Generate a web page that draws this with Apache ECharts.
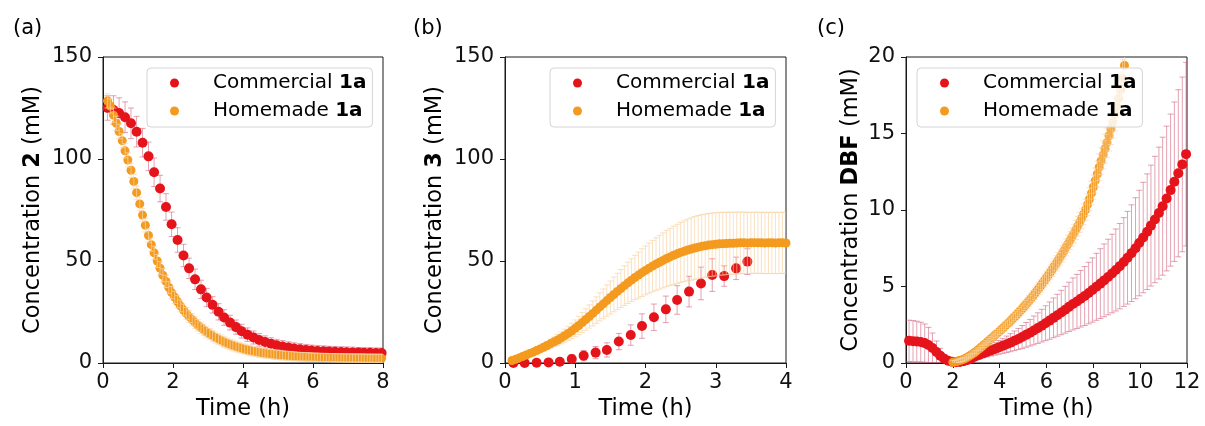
<!DOCTYPE html>
<html>
<head>
<meta charset="utf-8">
<script src="https://cdn.jsdelivr.net/npm/echarts@6/dist/echarts.min.js"></script>
<style>
  html, body { margin: 0; padding: 0; background: #fff; }
  #chart { width: 1205px; height: 426px; }
</style>
</head>
<body>
<div id="chart"></div>
<script>
// ---------- (a) concentration of 2 ----------
const aRedTime = [0.13,0.30,0.46,0.63,0.80,0.96,1.13,1.30,1.46,1.63,
  1.80,1.96,2.13,2.30,2.46,2.63,2.80,2.96,3.13,3.30,
  3.46,3.63,3.80,3.96,4.13,4.30,4.46,4.63,4.80,4.96,
  5.13,5.30,5.46,5.63,5.80,5.96,6.13,6.30,6.46,6.63,
  6.80,6.96,7.13,7.30,7.46,7.63,7.80,7.96];
const aRedConc = [125.0,124.0,122.5,120.5,117.5,113.4,108.0,101.3,93.5,85.5,
  76.5,68.0,60.3,52.7,46.4,41.0,36.1,32.1,28.5,25.1,
  22.3,19.8,17.6,15.6,13.9,12.5,11.3,10.3,9.4,8.7,
  8.1,7.6,7.1,6.7,6.4,6.1,5.9,5.7,5.6,5.5,
  5.4,5.3,5.2,5.1,5.0,5.0,4.9,4.9];
const aRedErr = [6.0,7.0,7.5,7.5,7.5,7.5,7.0,7.0,7.0,6.5,
  6.5,6.0,6.0,5.5,5.0,5.0,4.5,4.5,4.0,4.0,
  3.8,3.6,3.5,3.4,3.3,3.2,3.1,3.0,3.0,2.9,
  2.9,2.8,2.8,2.8,2.7,2.7,2.7,2.7,2.6,2.6,
  2.6,2.6,2.6,2.5,2.5,2.5,2.5,2.5];

const aOrangeTime = [0.13,0.21,0.30,0.38,0.46,0.55,0.63,0.71,0.80,0.88,
  0.96,1.05,1.13,1.21,1.30,1.38,1.46,1.55,1.63,1.71,
  1.80,1.88,1.96,2.05,2.13,2.21,2.30,2.38,2.46,2.55,
  2.63,2.71,2.80,2.88,2.96,3.05,3.13,3.21,3.30,3.38,
  3.46,3.55,3.63,3.71,3.80,3.88,3.96,4.05,4.13,4.21,
  4.30,4.38,4.46,4.55,4.63,4.71,4.80,4.88,4.96,5.05,
  5.13,5.21,5.30,5.38,5.46,5.55,5.63,5.71,5.80,5.88,
  5.96,6.05,6.13,6.21,6.30,6.38,6.46,6.55,6.63,6.71,
  6.80,6.88,6.96,7.05,7.13,7.21,7.30,7.38,7.46,7.55,
  7.63,7.71,7.80,7.88,7.96];
const aOrangeConc = [128.5,126.0,121.5,117.5,113.5,109.0,104.0,99.5,94.5,89.0,
  83.5,78.0,72.5,67.5,62.5,58.0,54.0,50.0,46.5,43.0,
  40.0,37.0,34.5,32.2,30.0,28.0,26.0,24.3,22.7,21.2,
  19.8,18.5,17.3,16.2,15.2,14.2,13.3,12.5,11.7,11.0,
  10.3,9.7,9.1,8.6,8.1,7.6,7.2,6.8,6.4,6.1,
  5.8,5.5,5.2,5.0,4.8,4.6,4.4,4.2,4.05,3.9,
  3.75,3.6,3.5,3.4,3.3,3.2,3.1,3.05,3.0,2.95,
  2.9,2.85,2.8,2.75,2.7,2.7,2.65,2.6,2.6,2.55,
  2.55,2.5,2.5,2.45,2.45,2.45,2.4,2.4,2.4,2.35,
  2.35,2.35,2.3,2.3,2.3];
const aOrangeErr = [3.5,3.5,3.5,3.5,3.5,3.5,3.5,3.5,3.5,3.5,
  3.3,3.3,3.3,3.3,3.3,3.2,3.2,3.2,3.2,3.2,
  3.0,3.0,3.0,3.0,3.0,2.9,2.9,2.9,2.9,2.9,
  2.8,2.8,2.8,2.8,2.8,2.7,2.7,2.7,2.7,2.7,
  2.6,2.6,2.6,2.6,2.6,2.5,2.5,2.5,2.5,2.5,
  2.4,2.4,2.4,2.4,2.4,2.3,2.3,2.3,2.3,2.3,
  2.2,2.2,2.2,2.2,2.2,2.1,2.1,2.1,2.1,2.1,
  2.0,2.0,2.0,2.0,2.0,2.0,2.0,2.0,2.0,2.0,
  2.0,2.0,2.0,2.0,2.0,2.0,2.0,2.0,2.0,2.0,
  2.0,2.0,2.0,2.0,2.0];

// ---------- (b) concentration of 3 ----------
const bRedTime = [0.12,0.28,0.45,0.62,0.78,0.95,1.12,1.29,1.45,1.62,
  1.79,1.95,2.12,2.29,2.45,2.62,2.79,2.95,3.12,3.29,3.45];
const bRedConc = [0.0,0.0,0.1,0.3,0.6,2.0,3.6,5.1,6.4,10.5,
  13.7,18.1,22.4,26.3,30.9,35.0,39.0,43.1,42.6,46.4,49.7];
const bRedErr = [0.2,0.3,0.5,0.8,1.2,2.0,2.5,3.0,3.5,4.0,
  5.0,6.0,6.5,6.5,7.0,7.5,8.0,8.0,5.0,5.5,6.3];

const bOrangeTime = [0.10,0.15,0.20,0.25,0.30,0.35,0.40,0.45,0.50,0.55,
  0.60,0.65,0.70,0.75,0.80,0.85,0.90,0.95,1.00,1.05,
  1.10,1.15,1.20,1.25,1.30,1.35,1.40,1.45,1.50,1.55,
  1.60,1.65,1.70,1.75,1.80,1.85,1.90,1.95,2.00,2.05,
  2.10,2.15,2.20,2.25,2.30,2.35,2.40,2.45,2.50,2.55,
  2.60,2.65,2.70,2.75,2.80,2.85,2.90,2.95,3.00,3.05,
  3.10,3.15,3.20,3.25,3.30,3.35,3.40,3.45,3.50,3.55,
  3.60,3.65,3.70,3.75,3.80,3.85,3.90,3.95,4.00];
const bOrangeConc = [1.2,1.8,2.5,3.2,3.9,4.6,5.3,6.1,6.9,7.7,
  8.6,9.5,10.4,11.3,12.3,13.4,14.5,15.7,17.0,18.4,
  19.8,21.3,22.8,24.3,25.9,27.5,29.0,30.6,32.1,33.6,
  35.1,36.5,37.9,39.3,40.6,41.9,43.1,44.3,45.4,46.5,
  47.5,48.5,49.4,50.3,51.2,52.0,52.8,53.5,54.2,54.8,
  55.4,55.9,56.4,56.8,57.2,57.5,57.8,58.0,58.2,58.4,
  58.5,58.6,58.7,58.7,58.8,58.9,58.9,58.8,58.9,59.0,
  58.9,58.9,58.8,58.9,58.9,58.8,58.9,58.9,58.8];
const bOrangeErr = [0.3,0.4,0.6,0.7,0.9,1.0,1.2,1.4,1.6,1.8,
  2.0,2.2,2.4,2.7,2.9,3.2,3.5,3.8,4.1,4.5,
  4.9,5.3,5.7,6.1,6.5,6.9,7.3,7.7,8.1,8.5,
  8.9,9.3,9.7,10.1,10.5,10.9,11.3,11.7,12.0,12.3,
  12.6,12.9,13.2,13.5,13.8,14.0,14.3,14.5,14.7,14.9,
  15.1,15.3,15.4,15.5,15.5,15.5,15.5,15.5,15.5,15.4,
  15.4,15.3,15.3,15.2,15.2,15.1,15.1,15.0,15.0,15.0,
  15.0,15.0,15.0,15.0,15.0,15.0,15.0,15.0,15.0];

// ---------- (c) concentration of DBF ----------
const cRedTime = [0.13,0.30,0.46,0.63,0.80,0.96,1.13,1.30,1.46,1.63,
  1.80,1.96,2.13,2.30,2.46,2.63,2.80,2.96,3.13,3.30,
  3.46,3.63,3.80,3.96,4.13,4.30,4.46,4.63,4.80,4.96,
  5.13,5.30,5.46,5.63,5.80,5.96,6.13,6.30,6.46,6.63,
  6.80,6.96,7.13,7.30,7.46,7.63,7.80,7.96,8.13,8.30,
  8.46,8.63,8.80,8.96,9.13,9.30,9.46,9.63,9.80,9.96,
  10.13,10.30,10.46,10.63,10.80,10.96,11.13,11.30,11.46,11.63,
  11.80,11.96];
const cRedConc = [1.45,1.42,1.40,1.37,1.30,1.18,0.98,0.72,0.48,0.28,
  0.15,0.08,0.05,0.07,0.12,0.20,0.30,0.42,0.53,0.63,
  0.72,0.82,0.92,1.02,1.12,1.22,1.33,1.45,1.57,1.70,
  1.84,1.98,2.13,2.28,2.44,2.60,2.77,2.95,3.12,3.30,
  3.48,3.67,3.86,4.02,4.20,4.38,4.57,4.77,4.98,5.19,
  5.40,5.62,5.85,6.08,6.33,6.60,6.88,7.18,7.50,7.84,
  8.20,8.58,8.98,9.38,9.80,10.25,10.75,11.30,11.85,12.40,
  12.98,13.65];
const cRedErr = [1.35,1.35,1.33,1.30,1.25,1.15,0.98,0.72,0.48,0.28,
  0.15,0.08,0.05,0.05,0.07,0.10,0.15,0.19,0.24,0.28,
  0.32,0.36,0.41,0.45,0.49,0.54,0.59,0.64,0.69,0.75,
  0.81,0.87,0.94,1.00,1.07,1.14,1.22,1.30,1.37,1.45,
  1.53,1.61,1.70,1.77,1.85,1.93,2.01,2.10,2.19,2.28,
  2.38,2.47,2.57,2.68,2.79,2.90,3.03,3.16,3.30,3.45,
  3.61,3.78,3.95,4.13,4.31,4.51,4.73,4.97,5.21,5.46,
  5.71,6.00];

const cOrangeTime = [2.00,2.08,2.17,2.25,2.33,2.42,2.50,2.58,2.67,2.75,2.83,2.92,
  3.00,3.08,3.17,3.25,3.33,3.42,3.50,3.58,3.67,3.75,3.83,3.92,
  4.00,4.08,4.17,4.25,4.33,4.42,4.50,4.58,4.67,4.75,4.83,4.92,
  5.00,5.08,5.17,5.25,5.33,5.42,5.50,5.58,5.67,5.75,5.83,5.92,
  6.00,6.08,6.17,6.25,6.33,6.42,6.50,6.58,6.67,6.75,6.83,6.92,
  7.00,7.08,7.17,7.25,7.33,7.42,7.50,7.58,7.67,7.75,7.83,7.92,
  8.00,8.08,8.17,8.25,8.33,8.42,8.50,8.58,8.67,8.75,8.83,8.92,
  9.00,9.08,9.17,9.25,9.33];
const cOrangeConc = [0.05,0.07,0.10,0.14,0.18,0.22,0.27,0.34,0.42,0.50,0.58,0.67,
  0.76,0.87,0.98,1.08,1.19,1.30,1.42,1.53,1.64,1.75,1.86,1.97,
  2.08,2.20,2.32,2.44,2.56,2.68,2.81,2.94,3.07,3.20,3.33,3.47,
  3.61,3.76,3.91,4.06,4.21,4.37,4.53,4.70,4.87,5.04,5.21,5.39,
  5.57,5.75,5.94,6.13,6.32,6.52,6.72,6.92,7.13,7.34,7.56,7.78,
  8.00,8.23,8.46,8.70,8.94,9.19,9.45,9.72,10.02,10.35,10.70,11.10,
  11.50,11.92,12.35,12.80,13.20,13.60,14.00,14.40,14.85,15.30,15.75,16.25,
  16.75,17.30,17.85,18.60,19.45];
const cOrangeErr = [0.10,0.10,0.11,0.11,0.12,0.12,0.12,0.13,0.13,0.13,0.14,0.14,
  0.15,0.15,0.16,0.16,0.17,0.18,0.19,0.19,0.20,0.20,0.21,0.22,
  0.22,0.23,0.24,0.25,0.25,0.26,0.27,0.28,0.28,0.29,0.30,0.31,
  0.32,0.33,0.33,0.34,0.35,0.36,0.37,0.38,0.39,0.40,0.41,0.42,
  0.43,0.45,0.46,0.47,0.48,0.49,0.50,0.52,0.53,0.54,0.55,0.57,
  0.58,0.59,0.61,0.62,0.64,0.65,0.67,0.68,0.70,0.72,0.74,0.77,
  0.79,0.82,0.84,0.87,0.89,0.92,0.94,0.96,0.99,1.02,1.05,1.08,
  1.11,1.14,1.17,1.22,1.27];

// ---------- axis ticks and labels ----------
const panelLabels = ['(a)', '(b)', '(c)'];
const xRanges = [[0, 8, 2], [0, 4, 1], [0, 12, 2]];
const yRanges = [[0, 150, 50], [0, 150, 50], [0, 20, 5]];
const yCompound = ['2', '3', 'DBF'];
const seriesNames = ['Commercial', 'Homemade'];

// ---------- styling ----------
const FONT = 'DejaVu Sans';
const RED = '#e5141b';
const ORANGE = '#f39a1f';
const RED_ERR = 'rgba(205,85,115,0.55)';
const ORANGE_ERR = 'rgba(250,214,168,0.7)';
const ORANGE_ERR_B = 'rgba(247,205,150,0.6)';
const AXIS = '#1a1a1a';

const gridBoxes = [
  { left: 103, top: 57, width: 280, height: 306 },
  { left: 505, top: 57, width: 281, height: 306 },
  { left: 906, top: 57, width: 281, height: 306 }
];
const yNameGaps = [58, 58, 43];
const legendLeft = [147, 550, 917];

function triples(t, v, e) { return t.map((x, i) => [x, v[i], e[i]]); }
function pairs(t, v) { return t.map((x, i) => [x, v[i]]); }

// vertical error bar with caps, placed through the axis scales
function errorBars(gi, t, v, e, color, z) {
  return {
    type: 'custom', name: 'err' + gi + '_' + z, xAxisIndex: gi, yAxisIndex: gi,
    data: triples(t, v, e), encode: { x: 0, y: 1 }, clip: true, silent: true, z: z,
    renderItem: function (params, api) {
      const x = api.value(0), y = api.value(1), d = api.value(2);
      const hi = api.coord([x, y + d]);
      const lo = api.coord([x, y - d]);
      const w = 3, st = { stroke: color, lineWidth: 1 };
      return { type: 'group', children: [
        { type: 'line', shape: { x1: hi[0], y1: hi[1], x2: lo[0], y2: lo[1] }, style: st },
        { type: 'line', shape: { x1: hi[0] - w, y1: hi[1], x2: hi[0] + w, y2: hi[1] }, style: st },
        { type: 'line', shape: { x1: lo[0] - w, y1: lo[1], x2: lo[0] + w, y2: lo[1] }, style: st }
      ]};
    }
  };
}
function points(gi, name, t, v, color, size, z) {
  return {
    type: 'scatter', name: name, xAxisIndex: gi, yAxisIndex: gi,
    data: pairs(t, v), symbol: 'circle', symbolSize: size, z: z,
    itemStyle: { color: color, opacity: 1 }, silent: true
  };
}

// red data, orange data, marker sizes, orange error colour and layer
const panels = [
  [aRedTime, aRedConc, aRedErr, aOrangeTime, aOrangeConc, aOrangeErr, 10, 9, ORANGE_ERR, 6],
  [bRedTime, bRedConc, bRedErr, bOrangeTime, bOrangeConc, bOrangeErr, 10, 9, ORANGE_ERR_B, 4],
  [cRedTime, cRedConc, cRedErr, cOrangeTime, cOrangeConc, cOrangeErr, 10, 9, ORANGE_ERR, 6]
];

const series = [];
panels.forEach((p, gi) => {
  series.push(errorBars(gi, p[0], p[1], p[2], RED_ERR, 2));
  series.push(points(gi, seriesNames[0], p[0], p[1], RED, p[6], 3));
  series.push(errorBars(gi, p[3], p[4], p[5], p[8], p[9]));
  series.push(points(gi, seriesNames[1], p[3], p[4], ORANGE, p[7], 5));
});

const option = {
  animation: false,
  backgroundColor: '#fff',
  textStyle: { fontFamily: FONT },
  title: panelLabels.map((txt, i) => ({
    text: txt, left: [8, 408, 812][i], top: 13,
    textStyle: { fontFamily: FONT, fontSize: 21, fontWeight: 'normal', color: '#000' }
  })),
  grid: gridBoxes.map(g => Object.assign({ show: true, borderColor: AXIS, borderWidth: 1, backgroundColor: 'transparent' }, g)),
  xAxis: xRanges.map((r, i) => ({
    type: 'value', gridIndex: i, min: r[0], max: r[1], interval: r[2],
    name: 'Time (h)', nameLocation: 'middle', nameGap: 27,
    nameTextStyle: { fontFamily: FONT, fontSize: 22.5, color: '#000' },
    axisLine: { show: true, onZero: false, lineStyle: { color: AXIS, width: 1 } },
    axisTick: { show: true, inside: false, length: 5, lineStyle: { color: AXIS } },
    axisLabel: { fontFamily: FONT, fontSize: 21, color: '#111', margin: 9 },
    splitLine: { show: false }
  })),
  yAxis: yRanges.map((r, i) => ({
    type: 'value', gridIndex: i, min: r[0], max: r[1], interval: r[2],
    name: '{n|Concentration }{b|' + yCompound[i] + '}{n| (mM)}',
    nameLocation: 'middle', nameGap: yNameGaps[i],
    nameTextStyle: {
      color: '#000',
      rich: {
        n: { fontFamily: FONT, fontSize: 22.5, color: '#000' },
        b: { fontFamily: FONT, fontSize: 22.5, fontWeight: 'bold', color: '#000' }
      }
    },
    axisLine: { show: true, onZero: false, lineStyle: { color: AXIS, width: 1 } },
    axisTick: { show: true, inside: false, length: 5, lineStyle: { color: AXIS } },
    axisLabel: { fontFamily: FONT, fontSize: 21, color: '#111', margin: 11 },
    splitLine: { show: false }
  })),
  legend: legendLeft.map(l => ({
    data: seriesNames, orient: 'vertical', left: l, top: 68, z: 20,
    icon: 'circle', itemWidth: 9, itemHeight: 9, itemGap: 8,
    padding: [5, 6, 6, 23],
    borderColor: '#d4d4d4', borderWidth: 1, borderRadius: 4,
    backgroundColor: 'rgba(255,255,255,0.8)',
    selectedMode: false,
    formatter: name => '{s|}{n|' + name + ' }{b|1a}',
    textStyle: {
      rich: {
        s: { width: 29 },
        n: { fontFamily: FONT, fontSize: 20, color: '#000', lineHeight: 22 },
        b: { fontFamily: FONT, fontSize: 20, fontWeight: 'bold', color: '#000', lineHeight: 22 }
      }
    }
  })),
  series: series
};

const chart = echarts.init(document.getElementById('chart'), null, { renderer: 'canvas' });
chart.setOption(option);
</script>
</body>
</html>
